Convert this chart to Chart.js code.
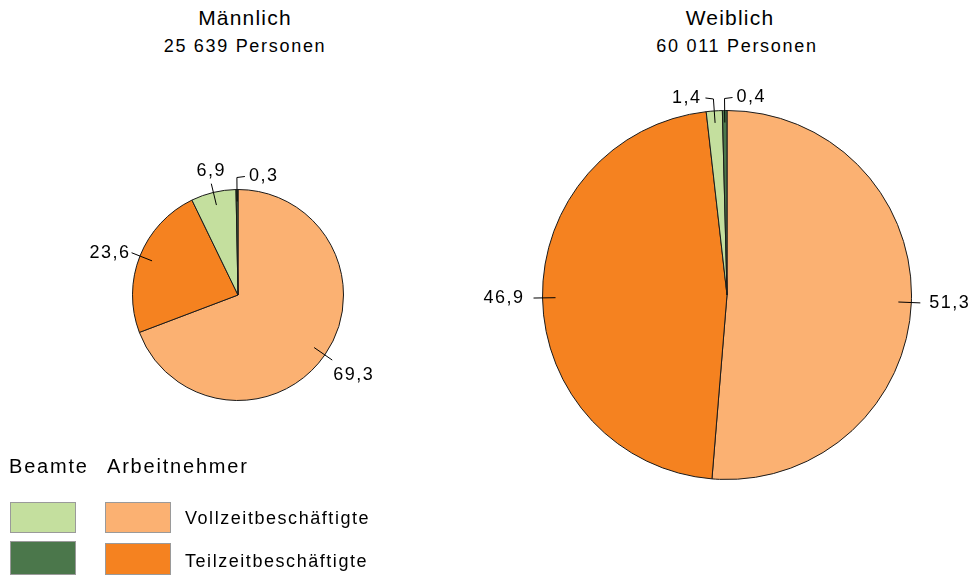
<!DOCTYPE html>
<html>
<head>
<meta charset="utf-8">
<script src="https://cdn.jsdelivr.net/npm/chart.js@4"></script>
<style>
  html, body { margin: 0; padding: 0; background: #fff; }
  body { width: 974px; height: 578px; position: relative; overflow: hidden;
         font-family: "Liberation Sans", Arial, sans-serif; color: #000; }
  canvas { position: absolute; }
  .t { position: absolute; white-space: nowrap; transform: translateX(-50%); text-align: center; }
  .h1 { font-size: 21px; letter-spacing: 1.2px; }
  .h2 { font-size: 18px; letter-spacing: 1.7px; top: 36px; }
  .lg { position: absolute; white-space: nowrap; }
  .lh { font-size: 20px; letter-spacing: 1.8px; top: 455px; }
  .li { font-size: 18px; letter-spacing: 1.55px; }
  .box { position: absolute; width: 66px; height: 31px; box-sizing: border-box; border: 1px solid #9a9a9a; }
</style>
</head>
<body>
<div class="t h1" style="left:245px; top:6px;">Männlich</div>
<div class="t h2" style="left:245px;">25 639 Personen</div>
<div class="t h1" style="left:730px; top:6px;">Weiblich</div>
<div class="t h2" style="left:737px;">60 011 Personen</div>

<canvas id="maleChart" width="476" height="470" style="left:0px; top:60px;"></canvas>
<canvas id="femaleChart" width="494" height="470" style="left:480px; top:60px;"></canvas>

<div id="legend"></div>

<script>
// Reihenfolge im Uhrzeigersinn ab 12 Uhr
const categories = ['Arbeitnehmer Vollzeitbeschäftigte', 'Arbeitnehmer Teilzeitbeschäftigte',
                    'Beamte Vollzeitbeschäftigte', 'Beamte Teilzeitbeschäftigte'];
const maennlich = [69.3, 23.6, 6.9, 0.3];
const weiblich = [51.3, 46.9, 1.4, 0.4];
const COLORS = ['#FBB172', '#F58220', '#C4DF9E', '#4B774B'];

function fmt(v) {
  return v.toFixed(1).replace('.', ',');
}

// Beschriftung mit Führungslinien
const leaderLabels = {
  id: 'leaderLabels',
  afterDatasetsDraw(chart) {
    const ctx = chart.ctx;
    const meta = chart.getDatasetMeta(0);
    const data = chart.data.datasets[0].data;
    ctx.save();
    ctx.strokeStyle = '#000';
    ctx.lineWidth = 1;
    ctx.fillStyle = '#000';
    ctx.font = '18px "Liberation Sans", Arial, sans-serif';
    ctx.letterSpacing = '1.5px';
    meta.data.forEach((arc, i) => {
      const p = arc.getProps(['x', 'y', 'startAngle', 'endAngle', 'outerRadius'], true);
      const a = (p.startAngle + p.endAngle) / 2;
      const dx = Math.cos(a), dy = Math.sin(a);
      const r = p.outerRadius;
      const txt = fmt(data[i]);
      ctx.beginPath();
      if (Math.abs(dx) < 0.15) {
        // kleine Segmente oben: Knick-Linie
        const side = dx < -0.05 ? -1 : 1;
        const x0 = p.x + dx * (r - 12), y0 = p.y + dy * (r - 12);
        const x1 = p.x + dx * (r + 12), y1 = p.y + dy * (r + 12);
        const x2 = x1 + side * 8;
        ctx.moveTo(x0, y0);
        ctx.lineTo(x1, y1);
        ctx.lineTo(x2, y1 - 1);
        ctx.stroke();
        ctx.textAlign = side < 0 ? 'right' : 'left';
        ctx.textBaseline = 'middle';
        ctx.fillText(txt, x2 + side * 4, y1 - 1);
        return;
      }
      const x0 = p.x + dx * (r - 13), y0 = p.y + dy * (r - 13);
      const x1 = p.x + dx * (r + 9), y1 = p.y + dy * (r + 9);
      ctx.moveTo(x0, y0);
      ctx.lineTo(x1, y1);
      ctx.stroke();
      const gap = Math.abs(dy) < 0.2 ? 9 : 1;
      let tx = x1, ty = y1;
      if (Math.abs(dx) < 0.5) {
        ctx.textAlign = 'center';
      } else if (dx > 0) {
        ctx.textAlign = 'left';
        tx = x1 + gap;
      } else {
        ctx.textAlign = 'right';
        tx = x1 - gap;
      }
      if (dy > 0.5) {
        ctx.textBaseline = 'top';
        ty = y1 + 6;
      } else if (dy < -0.5) {
        ctx.textBaseline = 'bottom';
        ty = y1 - 4;
      } else {
        ctx.textBaseline = 'middle';
      }
      ctx.fillText(txt, tx, ty);
    });
    ctx.restore();
  }
};

function makePie(id, values, pad) {
  return new Chart(document.getElementById(id), {
    type: 'pie',
    data: {
      labels: categories,
      datasets: [{
        data: values,
        backgroundColor: COLORS,
        borderColor: '#1a1a1a',
        borderWidth: 1
      }]
    },
    options: {
      responsive: false,
      animation: false,
      events: [],
      layout: { padding: pad },
      plugins: {
        legend: { display: false },
        tooltip: { enabled: false }
      }
    },
    plugins: [leaderLabels]
  });
}

makePie('maleChart', maennlich, { left: 132, right: 132, top: 129, bottom: 129 });
makePie('femaleChart', weiblich, { left: 62, right: 62, top: 50, bottom: 50 });

// Legende
const legend = document.getElementById('legend');
legend.innerHTML =
  '<div class="lg lh" style="left:9px;">Beamte</div>' +
  '<div class="lg lh" style="left:107px;">Arbeitnehmer</div>' +
  '<div class="box" style="left:10px; top:502px; background:' + COLORS[2] + ';"></div>' +
  '<div class="box" style="left:10px; top:541px; height:34px; background:' + COLORS[3] + ';"></div>' +
  '<div class="box" style="left:105px; top:502px; background:' + COLORS[0] + ';"></div>' +
  '<div class="box" style="left:105px; top:543px; height:32px; background:' + COLORS[1] + ';"></div>' +
  '<div class="lg li" style="left:185px; top:508px;">Vollzeitbeschäftigte</div>' +
  '<div class="lg li" style="left:185px; top:551px;">Teilzeitbeschäftigte</div>';
</script>
</body>
</html>
